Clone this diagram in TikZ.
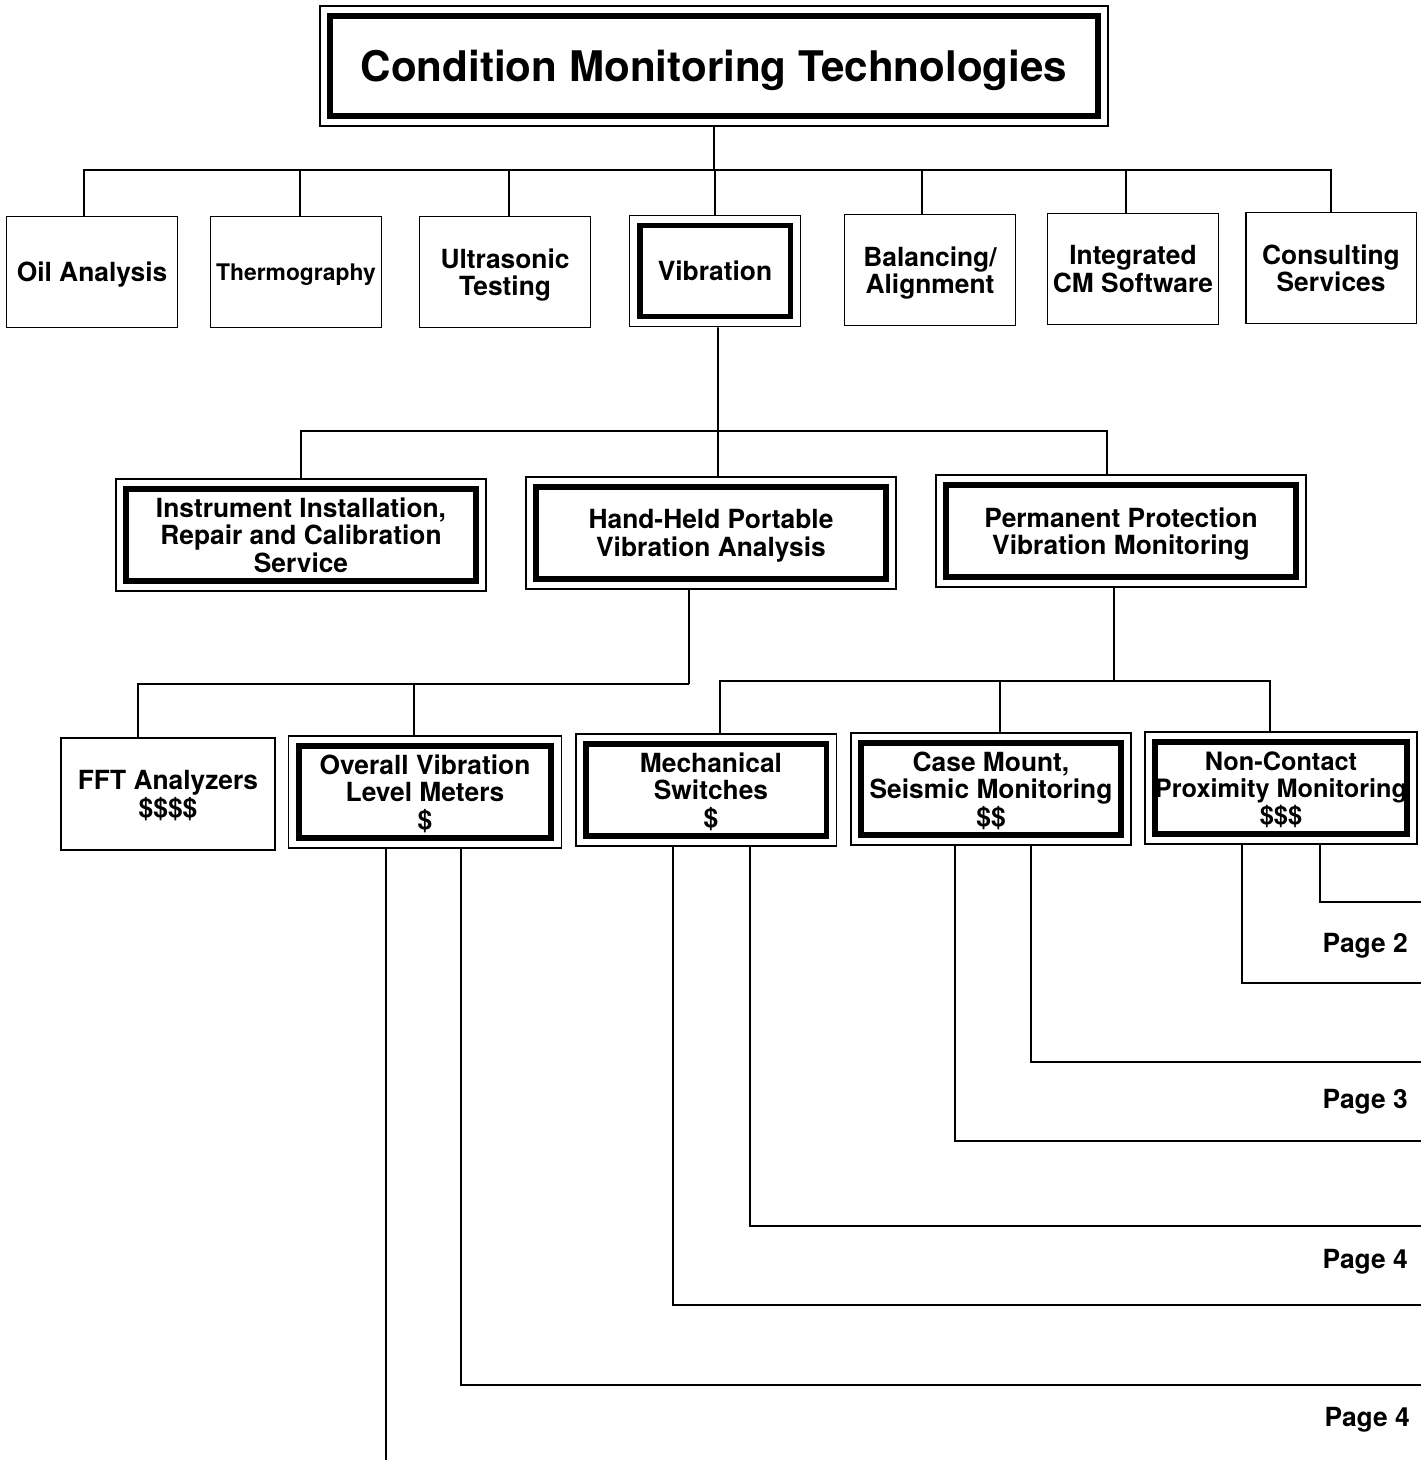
\documentclass[tikz,border=0pt]{standalone}
\usepackage{fontspec}
\setmainfont{TeX Gyre Heros}
\usetikzlibrary{positioning}
\tikzset{
  plainbox/.style={rectangle, draw=black, line width=1.1pt, fill=white,
    inner sep=0pt, align=center, minimum width=3.42cm, minimum height=2.22cm,
    text depth=0pt, font=\fontsize{15}{15.5}\selectfont\bfseries},
  dblbox/.style={plainbox, path picture={
    \draw[line width=3.4pt]
      ([shift={(0.2cm,-0.2cm)}]path picture bounding box.north west) rectangle
      ([shift={(-0.2cm,0.2cm)}]path picture bounding box.south east);}},
  link/.style={line width=1.1pt, color=black},
  pagelbl/.style={anchor=east, inner sep=0pt, font=\fontsize{15}{15}\selectfont\bfseries}
}
\begin{document}
\begin{tikzpicture}[x=0.02cm, y=-0.02cm]
  \useasboundingbox (0,0) rectangle (1421,1460);

  % Top
  \node[dblbox, minimum width=15.76cm, minimum height=2.4cm,
    font=\fontsize{24}{28}\selectfont\bfseries] (title) at (714,66) {Condition Monitoring Technologies};

  % Technologies
  \node[plainbox] (oil) at (92,272) {Oil Analysis};
  \node[plainbox, font=\fontsize{13}{15}\selectfont\bfseries] (thermo) at (296,272) {Thermography};
  \node[plainbox] (ultra) at (505,272) {Ultrasonic\\Testing};
  \node[dblbox] (vib) at (715,271) {Vibration};
  \node[plainbox] (bal) at (930,270) {Balancing/\\Alignment};
  \node[plainbox] (integ) at (1133,269) {Integrated\\CM Software};
  \node[plainbox] (consult) at (1331,268) {Consulting\\Services};

  \coordinate (bus1) at (714,170);
  \draw[link] (title.south) -- (bus1);
  \draw[link] ([xshift=-0.16cm]oil.north) |- (bus1);
  \draw[link] ([xshift=0.08cm]thermo.north) |- (bus1);
  \draw[link] ([xshift=0.08cm]ultra.north) |- (bus1);
  \draw[link] (vib.north) |- (bus1);
  \draw[link] ([xshift=-0.16cm]bal.north) |- (bus1);
  \draw[link] ([xshift=-0.14cm]integ.north) |- (bus1);
  \draw[link] (consult.north) |- (bus1);

  % Vibration branch
  \node[dblbox, minimum width=7.4cm, minimum height=2.24cm] (instr) at (301,535) {Instrument Installation,\\Repair and Calibration\\Service};
  \node[dblbox, minimum width=7.4cm, minimum height=2.24cm] (hand) at (711,533) {Hand-Held Portable\\Vibration Analysis};
  \node[dblbox, minimum width=7.4cm, minimum height=2.24cm] (perm) at (1121,531) {Permanent Protection\\Vibration Monitoring};

  \coordinate (bus2) at (718,431);
  \draw[link] ([xshift=0.06cm]vib.south) -- (bus2);
  \draw[link] (instr.north) |- (bus2);
  \draw[link] ([xshift=0.14cm]hand.north) |- (bus2);
  \draw[link] ([xshift=-0.28cm]perm.north) |- (bus2);

  % Instruments
  \node[plainbox, minimum width=4.28cm, minimum height=2.24cm] (fft) at (168,794) {FFT Analyzers\\\$\$\$\$};
  \node[dblbox, minimum width=5.46cm, minimum height=2.24cm] (overall) at (425,792) {Overall Vibration\\Level Meters\\\$};
  \node[dblbox, minimum width=5.22cm, minimum height=2.24cm] (mech) at (706,790) {\hspace*{0.2cm}Mechanical\\\hspace*{0.2cm}Switches\\\hspace*{0.2cm}\$};
  \node[dblbox, minimum width=5.6cm, minimum height=2.24cm] (casem) at (991,789) {Case Mount,\\Seismic Monitoring\\\$\$};
  \node[dblbox, minimum width=5.44cm, minimum height=2.24cm,
    font=\fontsize{14.4}{15.5}\selectfont\bfseries] (noncon) at (1281,788) {Non-Contact\\Proximity Monitoring\\\$\$\$};

  \coordinate (bus3) at (689,684);
  \draw[link] ([xshift=-0.44cm]hand.south) -- (bus3);
  \draw[link] ([xshift=-0.6cm]fft.north) |- (bus3);
  \draw[link] ([xshift=-0.22cm]overall.north) |- (bus3);

  \coordinate (bus4) at (1114,681);
  \draw[link] ([xshift=-0.14cm]perm.south) -- (bus4);
  \draw[link] ([xshift=0.28cm]mech.north) |- (bus4);
  \draw[link] ([xshift=0.18cm]casem.north) |- (bus4);
  \draw[link] ([xshift=-0.22cm]noncon.north) |- (bus4);

  % Continued on later pages
  \coordinate (nca) at (1421,902);
  \coordinate (ncb) at (1421,983);
  \coordinate (cma) at (1421,1062);
  \coordinate (cmb) at (1421,1141);
  \coordinate (msa) at (1421,1226);
  \coordinate (msb) at (1421,1305);
  \coordinate (ova) at (1421,1385);
  \coordinate (ovb) at (386,1460);
  \draw[link] ([xshift=0.78cm]noncon.south) |- (nca);
  \draw[link] ([xshift=-0.78cm]noncon.south) |- (ncb);
  \draw[link] ([xshift=0.8cm]casem.south) |- (cma);
  \draw[link] ([xshift=-0.72cm]casem.south) |- (cmb);
  \draw[link] ([xshift=0.88cm]mech.south) |- (msa);
  \draw[link] ([xshift=-0.66cm]mech.south) |- (msb);
  \draw[link] ([xshift=0.72cm]overall.south) |- (ova);
  \draw[link] ([xshift=-0.78cm]overall.south) -- (ovb);

  \node[pagelbl] (pg2) at (1408,946) {Page 2};
  \node[pagelbl] (pg3) at (1408,1102) {Page 3};
  \node[pagelbl] (pg4a) at (1408,1262) {Page 4};
  \node[pagelbl] (pg4b) at (1410,1420) {Page 4};
\end{tikzpicture}
\end{document}
